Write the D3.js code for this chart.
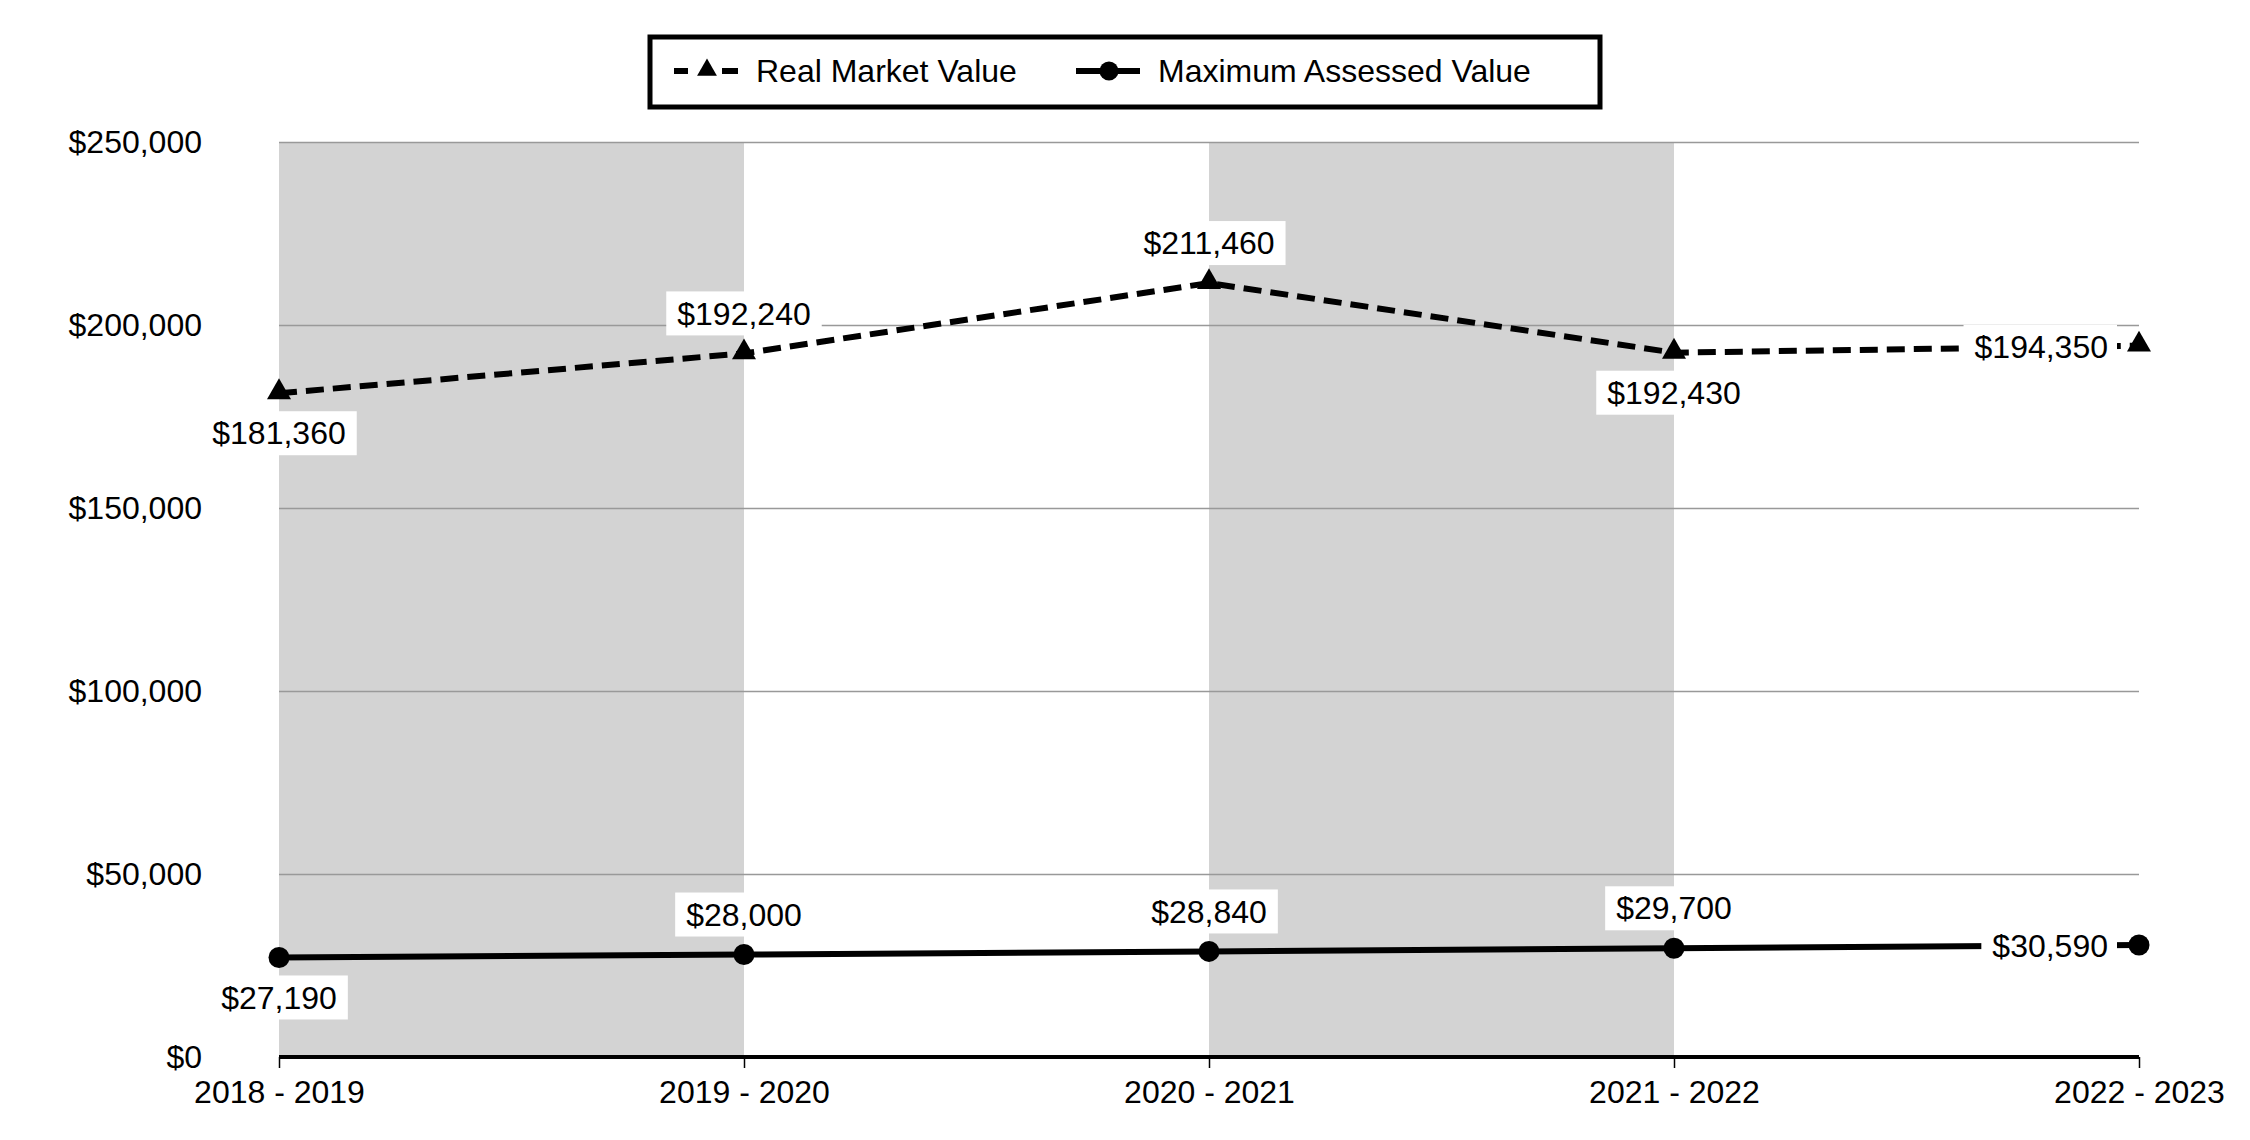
<!DOCTYPE html>
<html lang="en">
<head>
  <meta charset="utf-8">
  <title>Real Market Value vs Maximum Assessed Value</title>
  <script src="https://d3js.org/d3.v7.min.js"></script>
  <style>
    body { margin: 0; background: #fff; }
    svg text { font-family: "Liberation Sans", Arial, sans-serif; font-size: 32px; fill: #000; }
  </style>
</head>
<body>
<script>
  var years = ["2018 - 2019", "2019 - 2020", "2020 - 2021", "2021 - 2022", "2022 - 2023"];
  var realMarket = [181360, 192240, 211460, 192430, 194350];
  var maxAssessed = [27190, 28000, 28840, 29700, 30590];
  var yTicks = [0, 50000, 100000, 150000, 200000, 250000];
  // where each value label sits relative to its point
  var realLabelPos = ["below", "above", "above", "below", "left"];
  var maxLabelPos = ["below", "above", "above", "above", "left"];

  var W = 2250, H = 1140;
  var plotLeft = 279, plotRight = 2139, plotTop = 142, plotBottom = 1057;

  var svg = d3.select("body").append("svg")
      .attr("width", W)
      .attr("height", H);

  var x = d3.scalePoint().domain(years).range([plotLeft, plotRight]).padding(0);
  var y = d3.scaleLinear().domain([0, 250000]).range([plotBottom, plotTop]);
  var money = function(v) { return "$" + d3.format(",")(v); };

  // alternating grey bands
  var bands = svg.append("g");
  for (var i = 0; i < years.length - 1; i += 2) {
    bands.append("rect")
        .attr("x", x(years[i]))
        .attr("y", y(250000))
        .attr("width", x(years[i + 1]) - x(years[i]))
        .attr("height", y(0) - y(250000))
        .attr("fill", "#d3d3d3");
  }

  // gridlines + y labels
  var yAxis = svg.append("g")
      .attr("transform", "translate(" + plotLeft + ",0)")
      .call(d3.axisLeft(y).tickValues(yTicks).tickFormat(money)
              .tickSize(-(plotRight - plotLeft)).tickPadding(plotLeft - 202));
  yAxis.select(".domain").remove();
  yAxis.selectAll(".tick line")
      .attr("stroke", "#999")
      .attr("stroke-width", 1.5);
  yAxis.selectAll(".tick text")
      .style("font-family", "\"Liberation Sans\", Arial, sans-serif")
      .style("font-size", "32px")
      .attr("fill", "#000");

  // x axis
  var xAxis = svg.append("g")
      .attr("transform", "translate(0," + plotBottom + ")")
      .call(d3.axisBottom(x).tickSize(11).tickPadding(12));
  xAxis.select(".domain").attr("stroke", "#000").attr("stroke-width", 4)
      .attr("d", "M" + plotLeft + ",0H" + plotRight);
  xAxis.selectAll(".tick line").attr("stroke", "#000").attr("stroke-width", 1.5);
  xAxis.selectAll(".tick text")
      .style("font-family", "\"Liberation Sans\", Arial, sans-serif")
      .style("font-size", "32px")
      .attr("fill", "#000");

  var line = d3.line()
      .x(function(d, i) { return x(years[i]); })
      .y(function(d) { return y(d); });

  svg.append("path")
      .datum(realMarket)
      .attr("d", line)
      .attr("fill", "none")
      .attr("stroke", "#000")
      .attr("stroke-width", 6)
      .attr("stroke-dasharray", "18,9");

  svg.append("path")
      .datum(maxAssessed)
      .attr("d", line)
      .attr("fill", "none")
      .attr("stroke", "#000")
      .attr("stroke-width", 6);

  var tri = d3.symbol().type(d3.symbolTriangle).size(250);

  svg.append("g").selectAll("path")
      .data(realMarket)
      .enter().append("path")
      .attr("d", tri)
      .attr("transform", function(d, i) { return "translate(" + x(years[i]) + "," + (y(d) - 1) + ")"; })
      .attr("fill", "#000");

  svg.append("g").selectAll("circle")
      .data(maxAssessed)
      .enter().append("circle")
      .attr("cx", function(d, i) { return x(years[i]); })
      .attr("cy", function(d) { return y(d); })
      .attr("r", 10.5)
      .attr("fill", "#000");

  function addLabels(values, positions) {
    var g = svg.append("g");
    values.forEach(function(v, i) {
      var px = x(years[i]), py = y(v);
      var lg = g.append("g");
      var rect = lg.append("rect").attr("fill", "#fff");
      var t = lg.append("text").text(money(v)).attr("dy", "0.35em");
      var pos = positions[i];
      if (pos === "left") {
        t.attr("x", px - 31).attr("y", py + 1).attr("text-anchor", "end");
      } else {
        t.attr("x", px).attr("y", pos === "above" ? py - 40 : py + 40).attr("text-anchor", "middle");
      }
      var b = t.node().getBBox();
      var cy = +t.attr("y");
      var padR = pos === "left" ? 9 : 11;
      rect.attr("x", b.x - 11)
          .attr("y", cy - 22)
          .attr("width", b.width + 11 + padR)
          .attr("height", 44);
    });
  }
  addLabels(realMarket, realLabelPos);
  addLabels(maxAssessed, maxLabelPos);

  // legend
  var leg = svg.append("g");
  leg.append("rect")
      .attr("x", 650).attr("y", 37)
      .attr("width", 950).attr("height", 70)
      .attr("fill", "#fff")
      .attr("stroke", "#000")
      .attr("stroke-width", 5);
  var ly = 71;
  leg.append("line")
      .attr("x1", 674).attr("x2", 738).attr("y1", ly).attr("y2", ly)
      .attr("stroke", "#000").attr("stroke-width", 6)
      .attr("stroke-dasharray", "14,34,16");
  leg.append("path")
      .attr("d", d3.symbol().type(d3.symbolTriangle).size(170))
      .attr("transform", "translate(707," + (ly - 1) + ")")
      .attr("fill", "#000");
  leg.append("text").attr("x", 756).attr("y", ly).attr("dy", "0.35em").text("Real Market Value");

  leg.append("line")
      .attr("x1", 1076).attr("x2", 1140).attr("y1", ly).attr("y2", ly)
      .attr("stroke", "#000").attr("stroke-width", 6);
  leg.append("circle").attr("cx", 1109).attr("cy", ly).attr("r", 9.5).attr("fill", "#000");
  leg.append("text").attr("x", 1158).attr("y", ly).attr("dy", "0.35em").text("Maximum Assessed Value");
</script>
</body>
</html>
